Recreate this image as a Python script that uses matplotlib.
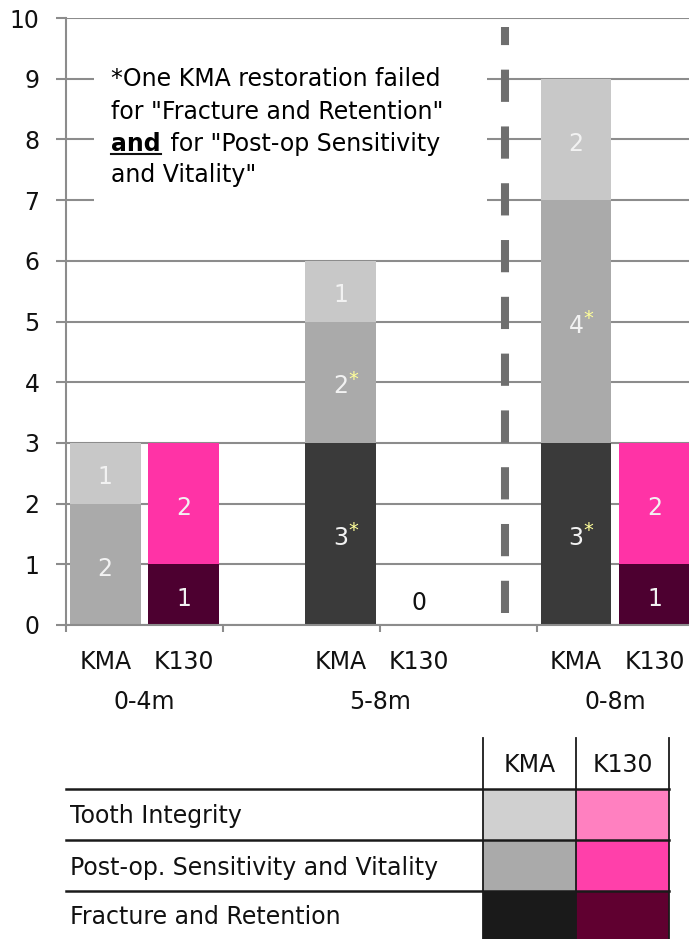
import matplotlib.pyplot as plt
from matplotlib.patches import Rectangle
from matplotlib.transforms import blended_transform_factory

plt.rcParams['font.family'] = ['Liberation Sans Narrow', 'DejaVu Sans Condensed', 'DejaVu Sans']

# data: failures per period, stacked bottom-up (fracture, post-op, tooth)
groups = ['0-4m', '5-8m', '0-8m']
materials = ['KMA', 'K130']
criteria = ['Tooth Integrity', 'Post-op. Sensitivity and Vitality', 'Fracture and Retention']

kma_fracture = [0, 3, 3]
kma_postop = [2, 2, 4]
kma_tooth = [1, 1, 2]
k130_fracture = [1, 0, 1]
k130_postop = [2, 0, 2]
k130_tooth = [0, 0, 0]

# segments marked with * (one KMA restoration counted twice)
kma_fracture_star = [False, True, True]
kma_postop_star = [False, True, True]

# bar colours (tooth, post-op, fracture) and table swatch colours
kma_colors = ['#c8c8c8', '#aaaaaa', '#3a3a3a']
k130_colors = ['#ff80c0', '#ff33a6', '#4d0030']
kma_table = ['#d0d0d0', '#aaaaaa', '#1a1a1a']
k130_table = ['#ff80c0', '#ff40aa', '#600030']

note_lines = ['*One KMA restoration failed', 'for "Fracture and Retention"',
              'and', ' for "Post-op Sensitivity', 'and Vitality"']

FS = 17
grid_c = '#8c8c8c'

fig = plt.figure(figsize=(6.89, 9.39), dpi=100)
W, H = 689, 939
ax = fig.add_axes([66 / W, (H - 625) / H, (W - 66) / W, 607 / H])

group_pos = [1, 4, 7]
kma_x = [g - 0.5 for g in group_pos]
k130_x = [g + 0.5 for g in group_pos]
bw = 0.9


def stack(xs, layers, colors, stars):
    bottom = [0] * len(xs)
    for vals, col, st in zip(layers, colors, stars):
        ax.bar(xs, vals, bw, bottom=bottom, color=col, zorder=2)
        for i, v in enumerate(vals):
            if v == 0:
                continue
            yc = bottom[i] + v / 2 - 0.07
            ax.text(xs[i], yc, str(v), ha='center', va='center',
                    color='#f2f2f2', fontsize=FS, zorder=4)
            if st[i]:
                ax.text(xs[i] + 0.1, yc + 0.12, '*', ha='left', va='center',
                        color='#ffff99', fontsize=FS - 3, zorder=4)
        bottom = [b + v for b, v in zip(bottom, vals)]
    for i, b in enumerate(bottom):
        if b == 0:
            ax.text(xs[i], 0.36, '0', ha='center', va='center',
                    color='#111111', fontsize=FS, zorder=4)


no_star = [False, False, False]
stack(kma_x, [kma_fracture, kma_postop, kma_tooth],
      [kma_colors[2], kma_colors[1], kma_colors[0]],
      [kma_fracture_star, kma_postop_star, no_star])
stack(k130_x, [k130_fracture, k130_postop, k130_tooth],
      [k130_colors[2], k130_colors[1], k130_colors[0]],
      [no_star, no_star, no_star])

ax.set_xlim(0, 7.94)
ax.set_ylim(0, 10)
ax.set_yticks(range(0, 11))
ax.set_xticks([0, 2, 4, 6])
ax.set_xticklabels([])
ax.yaxis.grid(True, color=grid_c, lw=1.5, zorder=0)
ax.set_axisbelow(True)
for s in ['top', 'right']:
    ax.spines[s].set_visible(False)
for s in ['left', 'bottom']:
    ax.spines[s].set_color(grid_c)
    ax.spines[s].set_linewidth(1.5)
ax.tick_params(axis='y', length=7, width=1.5, color=grid_c, pad=12,
               labelsize=FS, labelcolor='#111111')
ax.tick_params(axis='x', length=5, width=1.5, color=grid_c)

# dashed separator
ax.plot([5.6, 5.6], [0.2, 9.85], color='#6e6e6e', lw=5.8,
        linestyle=(0, (4.0, 3.05)), solid_capstyle='butt',
        dash_capstyle='butt', zorder=3)

# category labels
tr = blended_transform_factory(ax.transData, ax.transAxes)
for i, g in enumerate(groups):
    ax.text(kma_x[i], -0.061, materials[0], transform=tr, ha='center',
            va='center', fontsize=FS, color='#111111')
    ax.text(k130_x[i], -0.061, materials[1], transform=tr, ha='center',
            va='center', fontsize=FS, color='#111111')
    ax.text(group_pos[i], -0.127, g, transform=tr, ha='center',
            va='center', fontsize=FS, color='#111111')

# note box
ax.add_patch(Rectangle((0.36, 6.5), 5.0, 3.2, facecolor='white',
                       edgecolor='none', zorder=1))
nx = 0.573
ax.text(nx, 8.88, note_lines[0], fontsize=FS, va='baseline', zorder=4)
ax.text(nx, 8.34, note_lines[1], fontsize=FS, va='baseline', zorder=4)
t_and = ax.text(nx, 7.81, note_lines[2], fontsize=FS, va='baseline',
                fontweight='bold', zorder=4)
ax.annotate(note_lines[3], xy=(1, 0), xycoords=t_and, xytext=(2, 0),
            textcoords='offset points', va='bottom', ha='left',
            fontsize=FS, zorder=4)
ax.text(nx, 7.30, note_lines[4], fontsize=FS, va='baseline', zorder=4)

fig.canvas.draw()
bb = t_and.get_window_extent().transformed(ax.transData.inverted())
ax.plot([bb.x0, bb.x1], [7.76, 7.76], color='#111111', lw=1.5, zorder=4)

# legend table in pixel coordinates
tab = fig.add_axes([0, 0, 1, 1], zorder=-1)
tab.set_xlim(0, W)
tab.set_ylim(H, 0)
tab.axis('off')
cols = [483, 576, 669]
rows = [789, 840, 891, 939]
for r in range(3):
    tab.add_patch(Rectangle((cols[0], rows[r]), cols[1] - cols[0],
                            rows[r + 1] - rows[r], color=kma_table[r], lw=0))
    tab.add_patch(Rectangle((cols[1], rows[r]), cols[2] - cols[1],
                            rows[r + 1] - rows[r], color=k130_table[r], lw=0))
    tab.text(70, (rows[r] + rows[r + 1]) / 2 + 2, criteria[r], fontsize=FS,
             va='center', ha='left', color='#111111')
for y in rows[:3]:
    tab.plot([66, cols[2]], [y, y], color='#1a1a1a', lw=1.8)
for x in cols:
    tab.plot([x, x], [738, H], color='#1a1a1a', lw=1.3)
tab.text((cols[0] + cols[1]) / 2, 765, materials[0], fontsize=FS,
         ha='center', va='center', color='#111111')
tab.text((cols[1] + cols[2]) / 2, 765, materials[1], fontsize=FS,
         ha='center', va='center', color='#111111')

fig.savefig('out.png', dpi=100)
